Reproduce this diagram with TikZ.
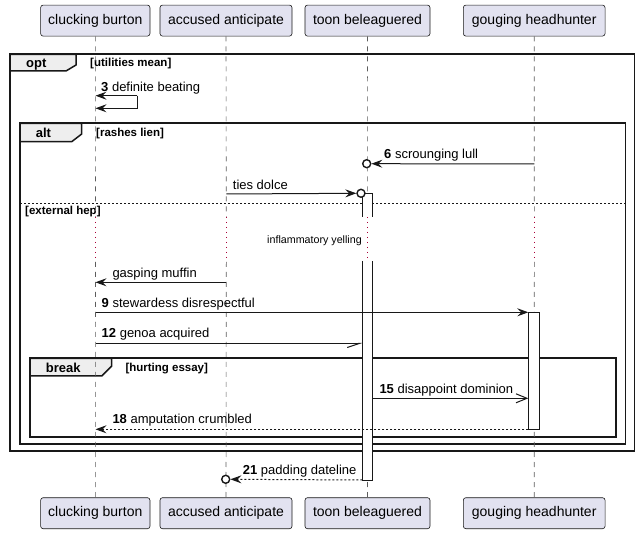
\documentclass[tikz,border=0pt]{standalone}
\usepackage{fontspec}
\setmainfont{Liberation Sans}
\usetikzlibrary{arrows.meta}
\definecolor{partfill}{HTML}{E2E2F0}
\definecolor{ink}{HTML}{181818}
\definecolor{tabfill}{HTML}{EEEEEE}
\definecolor{delaycol}{HTML}{A80036}
\tikzset{
  part/.style={draw=ink, fill=partfill, rounded corners=2.5pt, line width=0.6pt,
    minimum height=31pt, inner xsep=0pt, font=\fontsize{14}{16}\selectfont},
  lifeline/.style={draw=ink!70, line width=0.6pt, dash pattern=on 5pt off 5pt},
  delayline/.style={draw=delaycol, line width=1pt, dash pattern=on 1pt off 4pt},
  frame/.style={draw=ink, line width=1.6pt},
  tab/.style={draw=ink, line width=1.5pt, fill=tabfill},
  actbox/.style={draw=ink, fill=white, line width=1pt},
  msg/.style={draw=ink, line width=1pt},
  dmsg/.style={draw=ink, line width=1pt, dash pattern=on 2pt off 2pt},
  fullhead/.style={-{Stealth[length=11pt, width=8pt, inset=4pt]}},
  openhead/.style={-{Straight Barb[length=11pt, width=9pt, line width=1pt]}},
  halfhead/.style={-{Straight Barb[right, length=12pt, width=8pt, line width=1pt]}},
  lbl/.style={anchor=base west, inner sep=0pt, font=\fontsize{13}{15}\selectfont},
  ftitle/.style={anchor=base west, inner sep=0pt, font=\fontsize{13}{15}\selectfont\bfseries},
  fguard/.style={anchor=base west, inner sep=0pt, font=\fontsize{11.5}{13}\selectfont\bfseries},
  dlbl/.style={anchor=base, inner sep=0pt, font=\fontsize{10.7}{12}\selectfont},
  circ/.style={circle, draw=ink, line width=1.4pt, fill=white, minimum size=8pt, inner sep=0pt}
}
\begin{document}
\begin{tikzpicture}[x=1pt, y=-1pt]
\useasboundingbox (0,0) rectangle (640,534);

% participants
\node[part, minimum width=109.3pt] (pA) at (95.3,20.6) {clucking burton};
\node[part, minimum width=132pt] (pB) at (226,20.6) {accused anticipate};
\node[part, minimum width=125pt] (pC) at (367.5,20.6) {toon beleaguered};
\node[part, minimum width=141.7pt] (pD) at (534.2,20.6) {gouging headhunter};
\node[part, minimum width=109.3pt] (qA) at (95.3,513.2) {clucking burton};
\node[part, minimum width=132pt] (qB) at (226,513.2) {accused anticipate};
\node[part, minimum width=125pt] (qC) at (367.5,513.2) {toon beleaguered};
\node[part, minimum width=141.7pt] (qD) at (534.2,513.2) {gouging headhunter};

% delay break coordinates on lifelines
\foreach \n/\x in {A/95.5, B/226.3, C/367.7, D/534.3} {
  \coordinate (d1\n) at (\x,217);
  \coordinate (d2\n) at (\x,262);
}

% frames
\draw[frame] (10,54.3) rectangle (634.5,450.7);
\draw[tab] (10,54.3) -- (76,54.3) -- (76,65) -- (66,71) -- (10,71) -- cycle;
\node[ftitle] (optT) at (26,67.5) {opt};
\node[fguard] (optG) at (90,66.7) {[utilities mean]};

\draw[frame] (20,123.3) rectangle (625.5,444);
\draw[tab] (20,123.3) -- (81.7,123.3) -- (81.7,134) -- (71.7,141.7) -- (20,141.7) -- cycle;
\node[ftitle] (altT) at (35.7,137.5) {alt};
\node[fguard] (altG) at (96,136.7) {[rashes lien]};
\coordinate (sepL) at (20,203.3);
\coordinate (sepR) at (625.5,203.3);
\draw[ink, line width=0.8pt, dash pattern=on 2pt off 2pt] (sepL) -- (sepR);
\node[fguard] (altG2) at (25,214.3) {[external hep]};

\draw[frame] (30,358.3) rectangle (616,437.3);
\draw[tab] (30,358.3) -- (111.7,358.3) -- (111.7,366) -- (101.7,376) -- (30,376) -- cycle;
\node[ftitle] (brkT) at (45.7,372.7) {break};
\node[fguard] (brkG) at (125.3,371.7) {[hurting essay]};

% lifelines
\foreach \n in {A,B,C,D} {
  \draw[lifeline] (p\n.south) -- (d1\n);
  \draw[delayline] (d1\n) -- (d2\n);
  \draw[lifeline] (d2\n) -- (q\n.north);
}

% activation boxes (open across the delay)
\fill[white] (362.3,194) rectangle (372.3,217);
\draw[ink, line width=1pt] (362.3,217) -- (362.3,194) -- (372.3,194) -- (372.3,217);
\fill[white] (362.3,261) rectangle (372.3,480);
\draw[ink, line width=1pt] (362.3,261) -- (362.3,480) -- (372.3,480) -- (372.3,261);
\draw[actbox] (528.3,312.3) rectangle (539.3,429.3);

% message 3 (self)
\coordinate (m3a) at (95.5,95.7);
\coordinate (m3b) at (137.3,95.7);
\coordinate (m3c) at (137.3,108.3);
\coordinate (m3d) at (95.5,108.3);
\draw[msg, fullhead] (m3b) -- (m3a);
\draw[msg, fullhead] (m3b) -- (m3c) -- (m3d);
\node[lbl] (l3) at (101,91.3) {\textbf{3} definite beating};

% message 6
\coordinate (m6s) at (534.3,164);
\node[circ] (c6) at (366.7,163.7) {};
\draw[msg, fullhead] (m6s) -- (c6.east);
\node[lbl] (l6) at (384,158.5) {\textbf{6} scrounging lull};

% ties dolce
\coordinate (mtS) at (226.3,194);
\node[circ] (ct) at (361,193.3) {};
\draw[msg, fullhead] (mtS) -- (ct.west);
\node[lbl] (lt) at (232.7,190) {ties dolce};

% delay label
\node[dlbl] (dl) at (314.5,243.3) {inflammatory yelling};

% gasping muffin
\coordinate (mgS) at (226.3,282.3);
\coordinate (mgE) at (95.5,282.3);
\draw[msg, fullhead] (mgS) -- (mgE);
\node[lbl] (lg) at (112.3,277.3) {gasping muffin};

% message 9
\coordinate (m9S) at (95.5,312.3);
\coordinate (m9E) at (528.3,312.3);
\draw[msg, fullhead] (m9S) -- (m9E);
\node[lbl] (l9) at (101.5,307.3) {\textbf{9} stewardess disrespectful};

% message 12
\coordinate (m12S) at (95.5,343.5);
\coordinate (m12E) at (362.3,343.5);
\draw[msg, halfhead] (m12S) -- (m12E);
\node[lbl] (l12) at (101.5,337.3) {\textbf{12} genoa acquired};

% message 15
\coordinate (m15S) at (372.3,398.3);
\coordinate (m15E) at (528.3,398.3);
\draw[msg, openhead] (m15S) -- (m15E);
\node[lbl] (l15) at (379.3,394) {\textbf{15} disappoint dominion};

% message 18
\coordinate (m18S) at (528.3,429.3);
\coordinate (m18E) at (95.5,429.3);
\draw[dmsg, fullhead] (m18S) -- (m18E);
\node[lbl] (l18) at (112.3,423.3) {\textbf{18} amputation crumbled};

% message 21
\coordinate (m21S) at (362.3,480);
\node[circ] (c21) at (225.7,479.3) {};
\draw[dmsg, fullhead] (m21S) -- (c21.east);
\node[lbl] (l21) at (242.7,475) {\textbf{21} padding dateline};

\end{tikzpicture}
\end{document}
